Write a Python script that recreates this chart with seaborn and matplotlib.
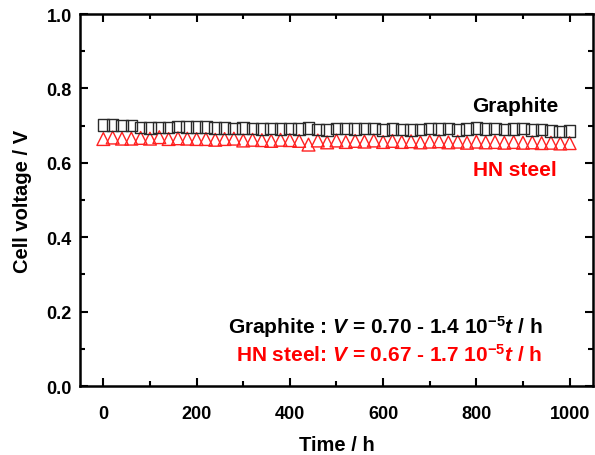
import numpy as np
import matplotlib
matplotlib.use("Agg")
import matplotlib.pyplot as plt
import seaborn as sns
import pandas as pd

time_h = list(range(0, 1001, 20))
graphite_v = [0.702, 0.702, 0.700, 0.700, 0.695, 0.694, 0.695, 0.695,
              0.698, 0.697, 0.697, 0.697, 0.693, 0.693, 0.692, 0.693,
              0.692, 0.691, 0.692, 0.691, 0.692, 0.691, 0.694, 0.690,
              0.689, 0.692, 0.692, 0.691, 0.692, 0.692, 0.688, 0.691,
              0.690, 0.688, 0.690, 0.692, 0.691, 0.692, 0.689, 0.691,
              0.693, 0.691, 0.692, 0.690, 0.691, 0.692, 0.689, 0.690,
              0.686, 0.684, 0.686]
hn_steel_v = [0.664, 0.668, 0.665, 0.665, 0.667, 0.665, 0.669, 0.664,
              0.666, 0.665, 0.664, 0.664, 0.662, 0.664, 0.665, 0.660,
              0.662, 0.661, 0.659, 0.662, 0.661, 0.659, 0.649, 0.660,
              0.655, 0.660, 0.656, 0.659, 0.657, 0.660, 0.656, 0.659,
              0.656, 0.658, 0.655, 0.657, 0.658, 0.655, 0.657, 0.654,
              0.657, 0.655, 0.656, 0.654, 0.656, 0.654, 0.655, 0.653,
              0.654, 0.652, 0.653]
x_ticks = [0, 200, 400, 600, 800, 1000]
y_ticks = [0.0, 0.2, 0.4, 0.6, 0.8, 1.0]

sns.set_style("ticks")
plt.rcParams['font.family'] = ['Liberation Sans', 'DejaVu Sans']
plt.rcParams['font.weight'] = 'bold'
plt.rcParams['mathtext.fontset'] = 'custom'
plt.rcParams['mathtext.it'] = 'Liberation Sans:italic:bold'
plt.rcParams['mathtext.rm'] = 'Liberation Sans:bold'
plt.rcParams['mathtext.bf'] = 'Liberation Sans:bold'
for key in ['text.color', 'axes.labelcolor', 'xtick.color', 'ytick.color',
            'axes.edgecolor']:
    plt.rcParams[key] = 'black'

fig = plt.figure(figsize=(5.95, 4.56), dpi=100)
ax = fig.add_axes([0.1345, 0.1513, 0.862, 0.8157])

df = pd.DataFrame({'t': time_h, 'g': graphite_v, 'h': hn_steel_v})
sns.scatterplot(data=df, x='t', y='h', marker='^', s=85, facecolor='none',
                edgecolor='#ff2020', linewidth=1.0, ax=ax, zorder=3)
sns.scatterplot(data=df, x='t', y='g', marker='s', s=70, facecolor='none',
                edgecolor='#2a2a2a', linewidth=1.0, ax=ax, zorder=4)

ax.set_xlim(-50, 1050)
ax.set_ylim(0, 1.0)
ax.set_xticks(x_ticks)
ax.set_yticks(y_ticks)
ax.set_xticks(range(0, 1001, 100), minor=True)
ax.set_yticks(np.arange(0, 1.01, 0.1), minor=True)
ax.set_yticklabels([f"{v:.1f}" for v in y_ticks])
ax.tick_params(which='both', direction='in', top=True, right=True, width=1.5,
               labelsize=13, colors='black')
ax.tick_params(axis='x', which='major', pad=14)
ax.tick_params(axis='y', which='major', pad=6)
ax.tick_params(which='major', length=6)
ax.tick_params(which='minor', length=3.5)
for lab in ax.get_xticklabels() + ax.get_yticklabels():
    lab.set_fontweight('bold')
for s in ax.spines.values():
    s.set_linewidth(1.8)
    s.set_color('black')
    s.set_visible(True)

ax.set_xlabel("Time / h", fontsize=14.5, fontweight='bold', labelpad=9)
ax.set_ylabel("Cell voltage / V", fontsize=14.5, fontweight='bold', labelpad=10)

ax.text(0.848, 0.753, "Graphite", transform=ax.transAxes, fontsize=15,
        fontweight='bold', color='black', ha='center', va='center')
ax.text(0.848, 0.583, "HN steel", transform=ax.transAxes, fontsize=15,
        fontweight='bold', color='red', ha='center', va='center')
ax.text(0.9025, 0.161, r"Graphite : $V$ = 0.70 - 1.4 10$^{-5}$$t$ / h",
        transform=ax.transAxes, fontsize=15, fontweight='bold', color='black',
        ha='right', va='center')
ax.text(0.9025, 0.086, r"HN steel: $V$ = 0.67 - 1.7 10$^{-5}$$t$ / h",
        transform=ax.transAxes, fontsize=15, fontweight='bold', color='red',
        ha='right', va='center')

fig.savefig("out.png", dpi=100)
